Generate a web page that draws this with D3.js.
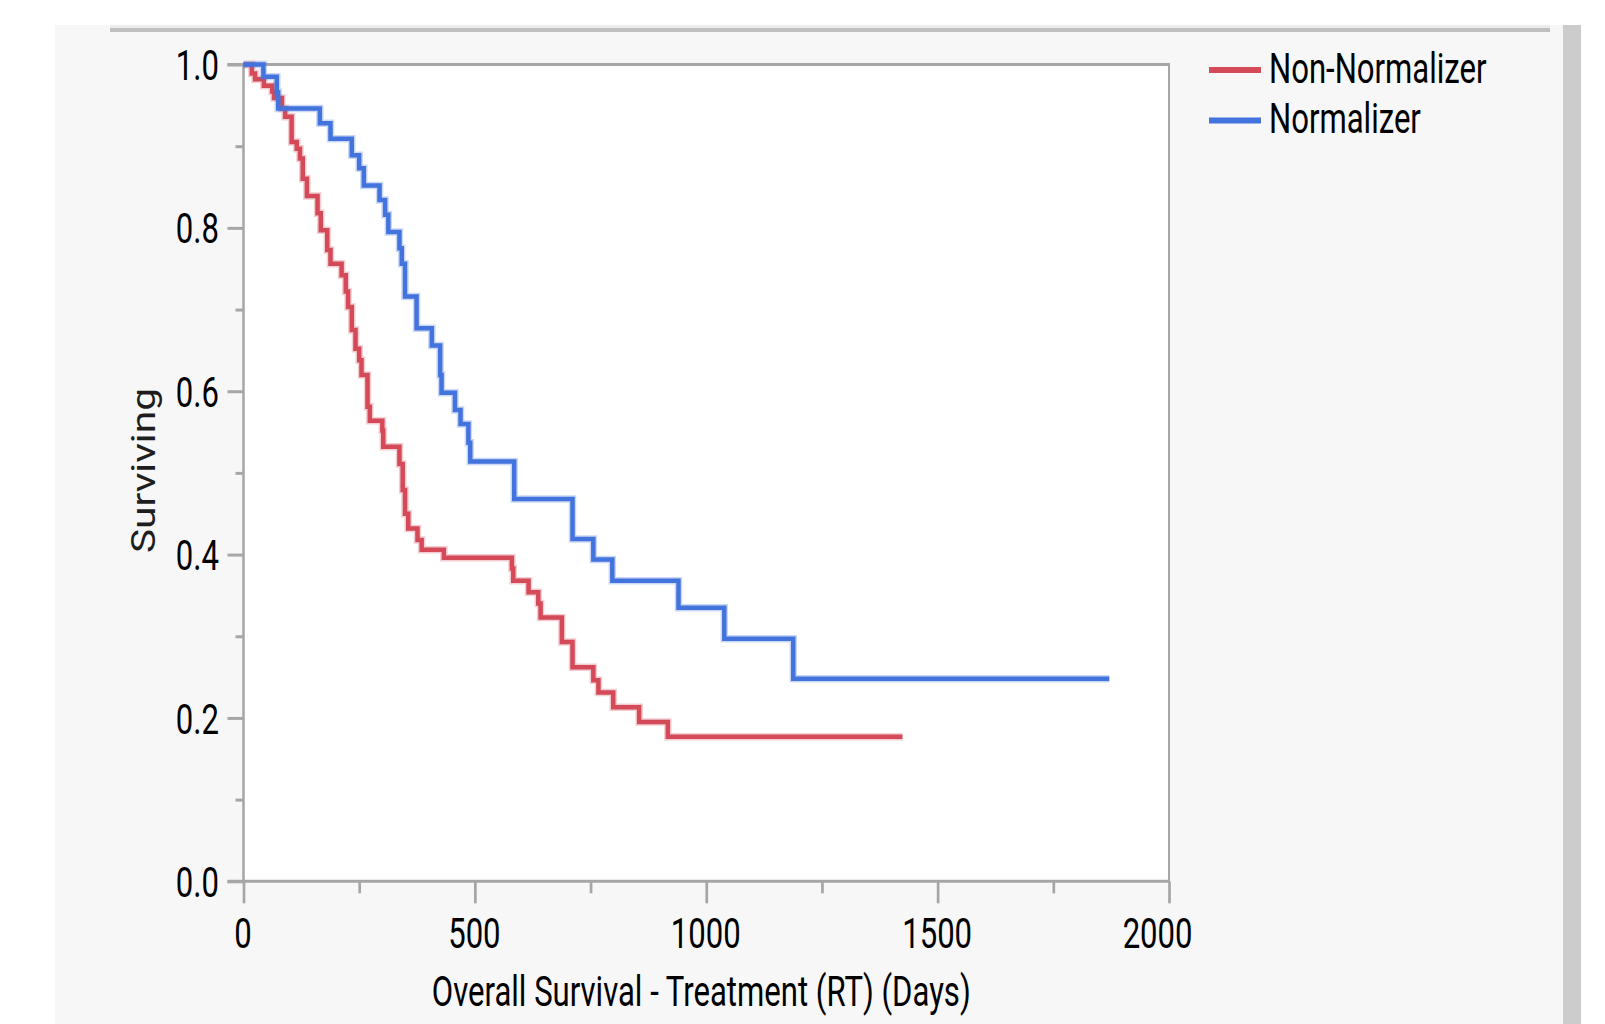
<!DOCTYPE html>
<html>
<head>
<meta charset="utf-8">
<script src="https://cdn.jsdelivr.net/npm/d3@7"></script>
<style>
	html, body { margin: 0; padding: 0; background: #ffffff; }
	svg { display: block; }
	text { font-family: Roboto, "Open Sans", sans-serif; }
</style>
</head>
<body>
<div id="chart"></div>
<script>

/*
 * Kuvaajan tiedot: elinaikakäyrien askeleet (päivä, osuus elossa)
 */
var seriesNames = ["Non-Normalizer", "Normalizer"];

var nonNormDays = [0, 18, 25, 44, 62, 66, 83, 90, 104, 115, 122, 128, 137, 160, 167, 181, 188,
	212, 221, 226, 234, 242, 250, 255, 268, 273, 300, 302, 337, 344, 349, 356, 376, 385,
	433, 580, 583, 616, 637, 642, 688, 711, 756, 767, 799, 855, 917];
var nonNormSurv = [1.0, 0.989, 0.982, 0.974, 0.967, 0.959, 0.946, 0.936, 0.905, 0.897, 0.885, 0.860, 0.839, 0.818, 0.797, 0.773, 0.756,
	0.742, 0.722, 0.703, 0.675, 0.652, 0.638, 0.620, 0.581, 0.564, 0.552, 0.532, 0.511, 0.479, 0.450, 0.432, 0.418, 0.406,
	0.396, 0.383, 0.368, 0.354, 0.340, 0.323, 0.293, 0.262, 0.246, 0.231, 0.213, 0.195, 0.177];
var nonNormEnd = 1424;

var normDays = [0, 43, 72, 75, 165, 188, 234, 250, 260, 294, 306, 313, 337, 342, 349, 374, 407,
	425, 428, 457, 469, 486, 490, 585, 711, 756, 797, 940, 1039, 1188];
var normSurv = [1.0, 0.985, 0.966, 0.946, 0.928, 0.909, 0.889, 0.873, 0.852, 0.834, 0.816, 0.795, 0.775, 0.756, 0.716, 0.677, 0.656,
	0.620, 0.598, 0.577, 0.560, 0.537, 0.514, 0.468, 0.419, 0.394, 0.368, 0.335, 0.297, 0.248];
var normEnd = 1871;

var xTicks = [0, 500, 1000, 1500, 2000];
var xMinorTicks = [250, 750, 1250, 1750];
var yTicks = [0, 0.2, 0.4, 0.6, 0.8, 1.0];
var yMinorTicks = [0.1, 0.3, 0.5, 0.7, 0.9];

var xTitle = "Overall Survival - Treatment (RT) (Days)";
var yTitle = "Surviving";


function SurvivalChart() {

	var width = 1605;		// koko SVG -elementin leveys
	var height = 1024;		// koko SVG -elementin korkeus

	var plot = {left: 243.5, top: 64.5, right: 1169, bottom: 881.3};

	var squeeze = 0.74;		// tekstien vaakasuuntainen kavennus
	var colors = ["#d44a59", "#4373dc"];
	var axisColor = "#a6a6a6";

	var svg, x, y;

	function chart(selection) {
		selection.each(function() {
			svg = d3.select(this).append("svg")
				.attr("width", width)
				.attr("height", height);

			x = d3.scaleLinear().domain([0, 2000]).range([plot.left, plot.right]);
			y = d3.scaleLinear().domain([0, 1]).range([plot.bottom, plot.top]);

			drawFrame();
			drawAxes();
			drawSeries();
			drawLegend();
		});
	}

	/*
	 * Kavennetaan teksti: mitataan luonnollinen leveys ja puristetaan
	 */
	var condense = function(sel, k) {
		sel.each(function() {
			var w = this.getComputedTextLength();
			d3.select(this)
				.attr("textLength", w * k)
				.attr("lengthAdjust", "spacingAndGlyphs");
		});
	};

	/*
	 * Ikkunan tausta, yläpalkki ja oikean reunan palkki
	 */
	var drawFrame = function() {
		svg.append("rect")
			.attr("x", 55).attr("y", 25)
			.attr("width", 1508).attr("height", height - 25)
			.attr("fill", "#f7f7f7");

		svg.append("rect")
			.attr("x", 1563).attr("y", 25)
			.attr("width", 18).attr("height", height - 25)
			.attr("fill", "#cccccc");

		svg.append("rect")
			.attr("x", 110).attr("y", 25)
			.attr("width", 1440).attr("height", 3)
			.attr("fill", "#ececec");

		svg.append("rect")
			.attr("x", 110).attr("y", 28)
			.attr("width", 1440).attr("height", 4)
			.attr("fill", "#c0c0c0");

		svg.append("rect")
			.attr("x", plot.left).attr("y", plot.top)
			.attr("width", plot.right - plot.left)
			.attr("height", plot.bottom - plot.top)
			.attr("fill", "#ffffff");
	};

	var styleAxis = function(g, w) {
		g.select(".domain").remove();
		g.selectAll(".tick line")
			.attr("stroke", axisColor)
			.attr("stroke-width", w);
	};

	var drawAxes = function() {

		// y-akseli: pääjaot ja välijaot
		var gyMinor = svg.append("g")
			.attr("transform", "translate(" + plot.left + ",0)")
			.call(d3.axisLeft(y).tickValues(yMinorTicks).tickSize(8).tickFormat(""));
		styleAxis(gyMinor, 3);

		var gy = svg.append("g")
			.attr("transform", "translate(" + plot.left + ",0)")
			.call(d3.axisLeft(y).tickValues(yTicks).tickSize(16).tickPadding(8.5)
				.tickFormat(d3.format(".1f")));
		styleAxis(gy, 3);
		gy.selectAll(".tick text")
			.attr("fill", "#000")
			.attr("font-size", 42)
			.attr("dy", "0.36em");
		condense(gy.selectAll(".tick text"), squeeze);

		// x-akseli
		var gxMinor = svg.append("g")
			.attr("transform", "translate(0," + plot.bottom + ")")
			.call(d3.axisBottom(x).tickValues(xMinorTicks).tickSize(12).tickFormat(""));
		styleAxis(gxMinor, 2.7);

		var gx = svg.append("g")
			.attr("transform", "translate(0," + plot.bottom + ")")
			.call(d3.axisBottom(x).tickValues(xTicks).tickSize(22).tickPadding(15)
				.tickFormat(d3.format("d")));
		styleAxis(gx, 2.7);
		gx.selectAll(".tick text")
			.attr("fill", "#000")
			.attr("font-size", 42)
			.attr("dx", -1);
		condense(gx.selectAll(".tick text"), squeeze);

		// viimeinen arvo ei saa mennä reunan yli
		gx.selectAll(".tick text").each(function(d) {
			var half = +d3.select(this).attr("textLength") / 2;
			var over = x(d) + half - (plot.right + 23);
			if (over > 0) d3.select(this).attr("dx", -over);
		});

		// kehys: vasen, yläreuna, oikea, alareuna
		var frame = svg.append("g")
			.attr("stroke", axisColor)
			.attr("fill", "none");

		frame.append("line")
			.attr("x1", plot.left).attr("x2", plot.left)
			.attr("y1", plot.top).attr("y2", plot.bottom)
			.attr("stroke-width", 2.5);
		frame.append("line")
			.attr("x1", plot.left - 16).attr("x2", plot.right + 1)
			.attr("y1", plot.top).attr("y2", plot.top)
			.attr("stroke-width", 3);
		frame.append("line")
			.attr("x1", plot.right).attr("x2", plot.right)
			.attr("y1", plot.top).attr("y2", plot.bottom)
			.attr("stroke-width", 2);
		frame.append("line")
			.attr("x1", plot.left - 16).attr("x2", plot.right + 1)
			.attr("y1", plot.bottom).attr("y2", plot.bottom)
			.attr("stroke-width", 3);

		// akselien otsikot
		var xt = svg.append("text")
			.attr("x", (plot.left + plot.right) / 2 - 5)
			.attr("y", 1005.5)
			.attr("text-anchor", "middle")
			.attr("font-size", 42)
			.attr("fill", "#000")
			.text(xTitle);
		condense(xt, squeeze);

		var yt = svg.append("text")
			.attr("transform", "translate(155,470.5) rotate(-90)")
			.attr("text-anchor", "middle")
			.attr("font-size", 33)
			.attr("fill", "#1e1e1e")
			.text(yTitle);
		yt.attr("textLength", 165).attr("lengthAdjust", "spacingAndGlyphs");
	};

	/*
	 * Elinaikakäyrät portaina
	 */
	var drawSeries = function() {
		var series = [
			{days: nonNormDays, surv: nonNormSurv, end: nonNormEnd},
			{days: normDays, surv: normSurv, end: normEnd}
		];

		var line = d3.line()
			.x(function(d) { return x(d[0]); })
			.y(function(d) { return y(d[1]); })
			.curve(d3.curveStepAfter);

		var g = svg.append("g");

		series.forEach(function(s, i) {
			var pts = d3.zip(s.days, s.surv);
			pts.push([s.end, s.surv[s.surv.length - 1]]);

			g.append("path")
				.attr("d", line(pts))
				.attr("fill", "none")
				.attr("stroke", colors[i])
				.attr("stroke-opacity", 0.28)
				.attr("stroke-width", 7.5);

			g.append("path")
				.attr("d", line(pts))
				.attr("fill", "none")
				.attr("stroke", colors[i])
				.attr("stroke-width", 4.5);
		});
	};

	var drawLegend = function() {
		var lg = svg.append("g");

		seriesNames.forEach(function(name, i) {
			var cy = 70 + i * 50.5;

			lg.append("line")
				.attr("x1", 1209).attr("x2", 1261)
				.attr("y1", cy).attr("y2", cy)
				.attr("stroke", colors[i])
				.attr("stroke-width", 6);

			var t = lg.append("text")
				.attr("x", 1269)
				.attr("y", cy + 12.5)
				.attr("font-size", 42)
				.attr("fill", "#000")
				.text(name);
			condense(t, squeeze);
		});
	};

	chart.width = function(value) {
		if (!arguments.length) return width;
		width = value;
		return chart;
	};

	chart.height = function(value) {
		if (!arguments.length) return height;
		height = value;
		return chart;
	};

	return chart;
}

d3.select("#chart").call(SurvivalChart());

</script>
</body>
</html>
